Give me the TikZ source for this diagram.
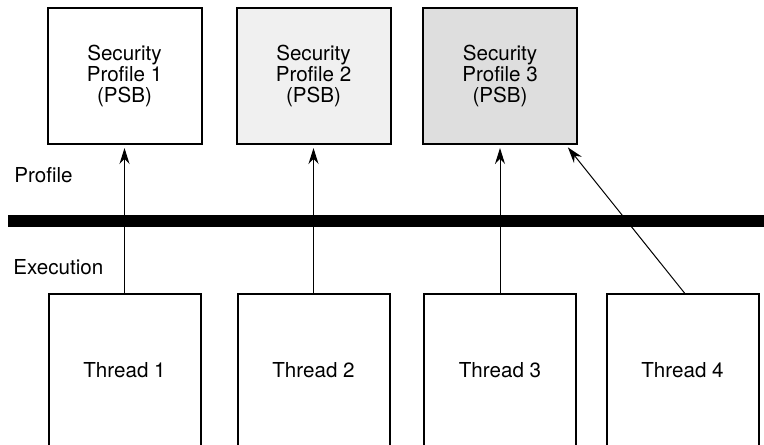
\documentclass[tikz,border=0pt]{standalone}
\usepackage{fontspec}
\setmainfont{TeX Gyre Heros}
\usetikzlibrary{arrows.meta}

\begin{document}
\begin{tikzpicture}[
    x                   = 0.5pt,
    y                   = -0.5pt,
    every node/.style   = {font=\fontsize{10.3}{10.4}\selectfont},
    profilebox/.style   = {draw, line width=1pt, minimum width=77pt, minimum height=68pt, align=center, inner sep=0pt},
    threadbox/.style    = {draw, line width=1pt, minimum width=76pt, minimum height=76pt, inner sep=0pt},
    link/.style         = {draw, line width=0.5pt, -{Stealth[length=8pt,width=5pt]}, shorten >=1.5pt}
  ]
\useasboundingbox (0,0) rectangle (764,444);
\clip (0,0) rectangle (764,444);

% security profiles
\node[profilebox]                  (p1) at (124.5,76) {Security\\Profile 1\\(PSB)};
\node[profilebox, fill=black!6]    (p2) at (313.5,76) {Security\\Profile 2\\(PSB)};
\node[profilebox, fill=black!13]   (p3) at (500,76)   {Security\\Profile 3\\(PSB)};

% layer labels and the boundary
\node[anchor=base west, inner sep=0pt] (profile)   at (14,182) {Profile};
\node[anchor=base west, inner sep=0pt] (execution) at (13,274) {Execution};
\coordinate (barleft)  at (8,221);
\coordinate (barright) at (764,221);
\draw[line width=6pt] (barleft) -- (barright);

% threads
\node[threadbox] (t1) at (124.5,370) {Thread 1};
\node[threadbox] (t2) at (313.5,370) {Thread 2};
\node[threadbox] (t3) at (500,370)   {Thread 3};
\node[threadbox] (t4) at (682.5,370) {Thread 4};

\draw[link] (t1.north) -- (p1.south);
\draw[link] (t2.north) -- (p2.south);
\draw[link] (t3.north) -- (p3.south);
\draw[link] ([xshift=1pt]t4.north) -- ([xshift=-6pt]p3.south east);
\end{tikzpicture}
\end{document}
